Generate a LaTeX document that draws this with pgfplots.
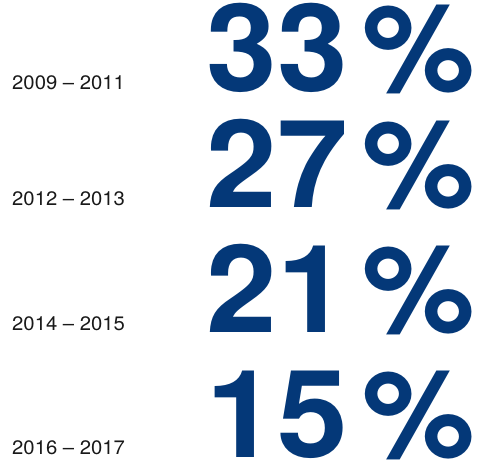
\documentclass[border=0pt]{standalone}
\usepackage{fontspec}
\setmainfont{TeX Gyre Heros}
\usepackage{pgfplots}
\usepackage{pgfplotstable}
\pgfplotsset{compat=1.18}
\definecolor{navy}{RGB}{4,56,120}
\pgfplotstableread{
x y value
476 91 33
476 207 27
476 332 21
476 457 15
}\values
\pgfplotstableread[col sep=comma]{
x,y,label
12,89,2009 – 2011
12,205,2012 – 2013
12,330,2014 – 2015
12,454,2016 – 2017
}\labels
\begin{document}
\begin{tikzpicture}
\begin{axis}[
  scale only axis, width=484pt, height=461pt,
  xmin=0, xmax=484, ymin=0, ymax=461, y dir=reverse,
  hide axis, clip=false,
  /pgf/number format/assume math mode=true,
]
\addplot[draw=none, mark=none, point meta=explicit,
  nodes near coords={\scalebox{1.04}[1]{\pgfmathprintnumber{\pgfplotspointmeta}\kern0.12em\%}},
  nodes near coords style={anchor=base east, inner sep=0pt, text=navy,
    font=\fontsize{122}{122}\selectfont\bfseries}]
  table[x=x, y=y, meta=value] {\values};
\addplot[draw=none, mark=none, point meta=explicit symbolic,
  nodes near coords={\scalebox{1.04}[1]{\pgfplotspointmeta}},
  nodes near coords style={anchor=base west, inner sep=0pt, text=black!90,
    font=\fontsize{19.5}{19.5}\selectfont}]
  table[x=x, y=y, meta=label] {\labels};
\end{axis}
\pgfresetboundingbox
\useasboundingbox (current axis.south west) rectangle (current axis.north east);
\end{tikzpicture}
\end{document}
